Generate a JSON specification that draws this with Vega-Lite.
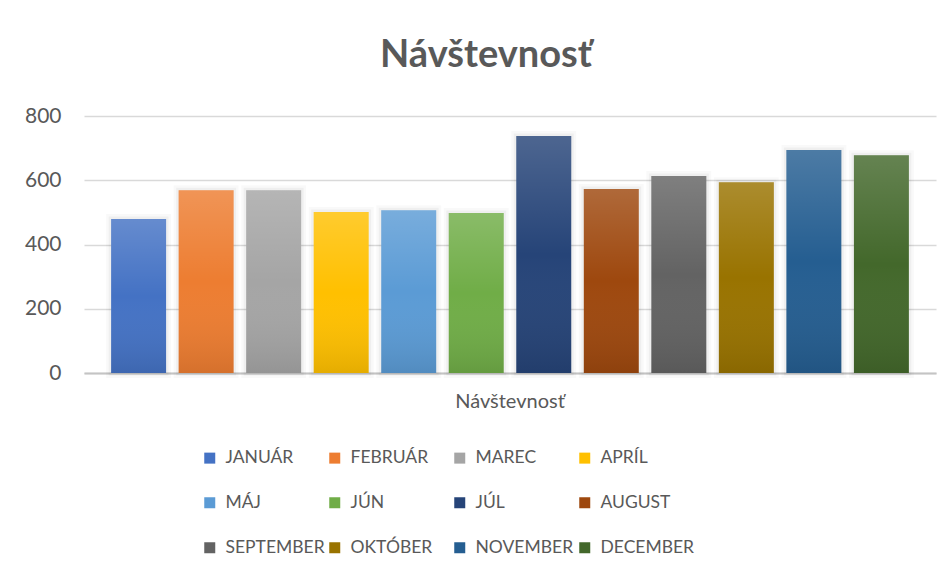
{
  "$schema": "https://vega.github.io/schema/vega-lite/v6.json",
  "autosize": {"type": "none"},
  "padding": {"left": 84, "top": 116, "right": 16, "bottom": 203},
  "width": 852,
  "height": 257,
  "background": "white",
  "title": {
    "text": "Návštevnosť",
    "fontSize": 38,
    "font": "Lato",
    "fontWeight": "bold",
    "color": "#595959",
    "anchor": "middle",
    "dx": -24,
    "offset": 30
  },
  "data": {
    "values": [
      {"kategoria": "Návštevnosť", "mesiac": "JANUÁR", "hodnota": 479},
      {"kategoria": "Návštevnosť", "mesiac": "FEBRUÁR", "hodnota": 569},
      {"kategoria": "Návštevnosť", "mesiac": "MAREC", "hodnota": 569},
      {"kategoria": "Návštevnosť", "mesiac": "APRÍL", "hodnota": 501},
      {"kategoria": "Návštevnosť", "mesiac": "MÁJ", "hodnota": 507},
      {"kategoria": "Návštevnosť", "mesiac": "JÚN", "hodnota": 498},
      {"kategoria": "Návštevnosť", "mesiac": "JÚL", "hodnota": 738},
      {"kategoria": "Návštevnosť", "mesiac": "AUGUST", "hodnota": 573},
      {"kategoria": "Návštevnosť", "mesiac": "SEPTEMBER", "hodnota": 613},
      {"kategoria": "Návštevnosť", "mesiac": "OKTÓBER", "hodnota": 594},
      {"kategoria": "Návštevnosť", "mesiac": "NOVEMBER", "hodnota": 694},
      {"kategoria": "Návštevnosť", "mesiac": "DECEMBER", "hodnota": 678}
    ]
  },
  "encoding": {
    "x": {
      "field": "kategoria",
      "type": "nominal",
      "scale": {"paddingInner": 0, "paddingOuter": 0.034},
      "axis": {
        "title": null,
        "labelAngle": 0,
        "labelFontSize": 20,
        "labelFont": "Lato",
        "labelColor": "#595959",
        "labelPadding": 18,
        "ticks": false,
        "grid": false,
        "domainColor": "#c4c4c4",
        "domainWidth": 2
      }
    },
    "xOffset": {
      "field": "mesiac",
      "type": "nominal",
      "sort": null,
      "scale": {"paddingInner": 0.186, "paddingOuter": 0}
    },
    "y": {
      "field": "hodnota",
      "type": "quantitative",
      "scale": {"domain": [0, 800]},
      "axis": {
        "title": null,
        "values": [0, 200, 400, 600, 800],
        "labelFontSize": 21,
        "labelFont": "Lato",
        "labelColor": "#595959",
        "labelPadding": 23,
        "domain": false,
        "ticks": false,
        "gridColor": "#d9d9d9",
        "gridWidth": 1.5
      }
    }
  },
  "layer": [
    {
      "mark": {"type": "bar", "fill": "#000", "fillOpacity": 0, "stroke": "#000", "strokeOpacity": 0.025, "strokeWidth": 10}
    },
    {
      "mark": {"type": "bar", "fill": "#000", "fillOpacity": 0, "stroke": "#000", "strokeOpacity": 0.04, "strokeWidth": 5}
    },
    {
      "mark": {"type": "bar"},
      "encoding": {
        "color": {
          "field": "mesiac",
          "type": "nominal",
          "scale": {
            "domain": ["JANUÁR", "FEBRUÁR", "MAREC", "APRÍL", "MÁJ", "JÚN", "JÚL", "AUGUST", "SEPTEMBER", "OKTÓBER", "NOVEMBER", "DECEMBER"],
            "range": ["#4472C4", "#ED7D31", "#A5A5A5", "#FFC000", "#5B9BD5", "#70AD47", "#264478", "#9E480E", "#636363", "#997300", "#255E91", "#43682B"]
          },
          "legend": {
            "title": null,
            "orient": "none",
            "legendX": 117,
            "legendY": 333,
            "columns": 4,
            "direction": "horizontal",
            "gridAlign": "all",
            "symbolType": "square",
            "symbolSize": 121,
            "symbolStrokeWidth": 0,
            "labelFontSize": 17.5,
            "labelFont": "Lato",
            "labelColor": "#595959",
            "labelOffset": 7,
            "labelLimit": 0,
            "columnPadding": 1,
            "rowPadding": 26
          }
        }
      }
    },
    {
      "mark": {
        "type": "bar",
        "fill": {
          "gradient": "linear",
          "x1": 0, "y1": 0, "x2": 0, "y2": 1,
          "stops": [
            {"offset": 0, "color": "rgba(255,255,255,0.18)"},
            {"offset": 0.5, "color": "rgba(255,255,255,0)"},
            {"offset": 1, "color": "rgba(0,0,0,0.1)"}
          ]
        }
      }
    }
  ],
  "config": {"view": {"stroke": null}}
}
